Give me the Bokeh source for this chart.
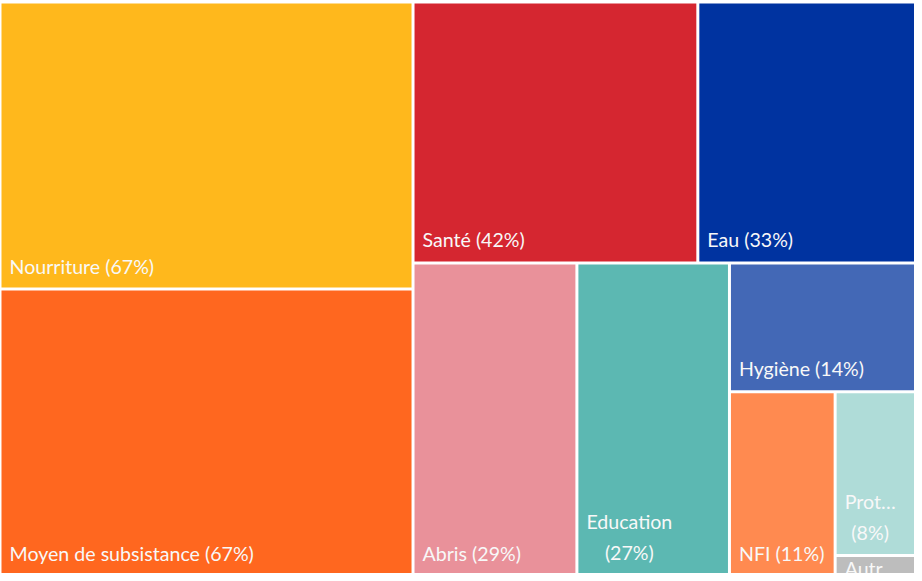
from bokeh.plotting import figure
from bokeh.models import Range1d, ColumnDataSource
from bokeh.core.properties import value
from bokeh.embed import file_html
from bokeh.resources import INLINE

# ---- data ----
categories = ["Nourriture", "Moyen de subsistance", "Santé", "Eau", "Abris",
              "Education", "Hygiène", "NFI", "Protection", "Autre"]
values = [67, 67, 42, 33, 29, 27, 14, 11, 8, 1]
short_names = ["Nourriture", "Moyen de subsistance", "Santé", "Eau", "Abris",
               "Education", "Hygiène", "NFI", "Prot…", "Autr…"]
wrapped = [False, False, False, False, False, True, False, False, True, True]
colors = ["#FFB81C", "#FF671F", "#D52630", "#0033A0", "#E9919A",
          "#5CB8B2", "#4368B6", "#FF8A50", "#AFDCD8", "#BDBDBD"]

# treemap extent (pixels of the chart area)
TW, TH = 921.6, 574.0
GAP = 1.5


def worst(row, side):
    s = sum(row)
    return max(max(side * side * r / (s * s), (s * s) / (side * side * r)) for r in row)


def squarify(vals, x, y, w, h):
    total = float(sum(vals))
    areas = [v / total * w * h for v in vals]
    rects = []
    while areas:
        side = min(w, h)
        row = [areas[0]]
        i = 1
        while i < len(areas) and worst(row + [areas[i]], side) <= worst(row, side):
            row.append(areas[i])
            i += 1
        areas = areas[i:]
        s = sum(row)
        if w >= h:
            cw = s / h
            yy = y
            for a in row:
                rh = a / cw
                rects.append((x, yy, x + cw, yy + rh))
                yy += rh
            x += cw
            w -= cw
        else:
            rh = s / w
            xx = x
            for a in row:
                cw = a / rh
                rects.append((xx, y, xx + cw, y + rh))
                xx += cw
            y += rh
            h -= rh
    return rects


rects = squarify(values, 0.0, 0.0, TW, TH)
left = [r[0] + GAP for r in rects]
right = [r[2] - GAP for r in rects]
top = [r[1] + GAP for r in rects]
bottom = [r[3] - GAP for r in rects]

src = ColumnDataSource(dict(left=left, right=right, top=top, bottom=bottom,
                            color=colors, name=categories))

p = figure(width=914, height=573, output_backend="svg", toolbar_location=None,
           x_range=Range1d(0.5, 914.5), y_range=Range1d(571.5, -1.5),
           min_border=0, outline_line_color=None)
p.axis.visible = False
p.grid.visible = False
p.background_fill_color = "white"
p.border_fill_color = "white"

p.quad(left="left", right="right", top="top", bottom="bottom",
       fill_color="color", line_color=None, source=src)

FONT = 19.6
LINE_H = 1.36
lab_x, lab_y, lab_t, lab_anchor = [], [], [], []
for i, (nm, v, wr) in enumerate(zip(short_names, values, wrapped)):
    txt = f"{nm}\n({v}%)" if wr else f"{nm} ({v}%)"
    nlines = txt.count("\n") + 1
    tile_h = bottom[i] - top[i]
    lab_x.append(left[i] + 8)
    if tile_h < nlines * FONT * LINE_H * 1.2 + 10:
        lab_y.append(top[i] + 0)
        lab_anchor.append("top_left")
    else:
        lab_y.append(bottom[i] - 10)
        lab_anchor.append("bottom_left")
    lab_t.append(txt)

for anc in ("bottom_left", "top_left"):
    idx = [k for k, a in enumerate(lab_anchor) if a == anc]
    if not idx:
        continue
    ls = ColumnDataSource(dict(x=[lab_x[k] for k in idx], y=[lab_y[k] for k in idx],
                               t=[lab_t[k] for k in idx]))
    p.text(x="x", y="y", text="t", source=ls, anchor=anc, text_align="center",
           text_font=value("Lato"), text_font_size=f"{FONT}px",
           text_color="#F8F8F8", text_line_height=LINE_H)

open("out.html", "w").write(file_html(p, INLINE))
